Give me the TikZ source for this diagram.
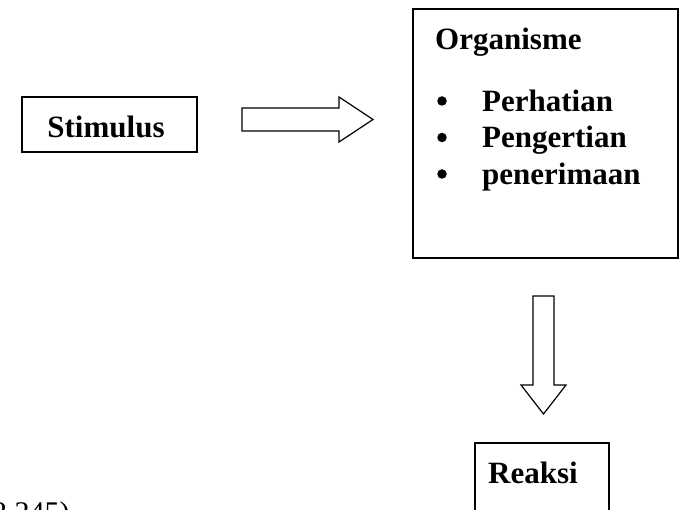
\documentclass[tikz,border=0pt]{standalone}
\usepackage{fontspec}
\setmainfont{Liberation Serif}
\begin{document}
\begin{tikzpicture}[x=1pt,y=-1pt,
  box/.style={draw,line width=1.2pt,inner sep=0pt},
  blockarrow/.style={draw,line width=1.2pt,fill=white,line join=miter},
  bul/.style={circle,fill=black,inner sep=0pt,minimum size=9.5pt},
  lbl/.style={font=\bfseries\fontsize{31}{37}\selectfont,inner sep=0pt,anchor=base west},
  src/.style={font=\fontsize{30}{36}\selectfont,inner sep=0pt,anchor=base west}]
\useasboundingbox (0,0) rectangle (680,510);
\clip (0,0) rectangle (680,510);
% boxes
\node[box,minimum width=175pt,minimum height=55pt] (stim) at (109.5,124.5) {};
\node[lbl,anchor=base] (stimt) at (106,138) {Stimulus};
\node[box,minimum width=265pt,minimum height=249pt] (org) at (545.5,133.5) {};
\node[lbl] (orgt) at (435,50) {Organisme};
\node[bul] (b1) at (442,101) {};
\node[lbl] (i1) at (482,112) {Perhatian};
\node[bul] (b2) at (442,137.5) {};
\node[lbl] (i2) at (482,148) {Pengertian};
\node[bul] (b3) at (442,174) {};
\node[lbl] (i3) at (482,185) {penerimaan};
\node[box,minimum width=134pt,minimum height=90pt] (reak) at (542,488) {};
\node[lbl] (reakt) at (488,483) {Reaksi};
\node[src] (cite) at (-8,522) {2.245)};
% block arrows
\draw[blockarrow] (242,108) -- (339,108) -- (339,97) -- (373,119.5) -- (339,142) -- (339,131) -- (242,131) -- cycle;
\draw[blockarrow] (533,296) -- (554,296) -- (554,385) -- (566,385) -- (543.5,414) -- (521,385) -- (533,385) -- cycle;
\end{tikzpicture}
\end{document}
